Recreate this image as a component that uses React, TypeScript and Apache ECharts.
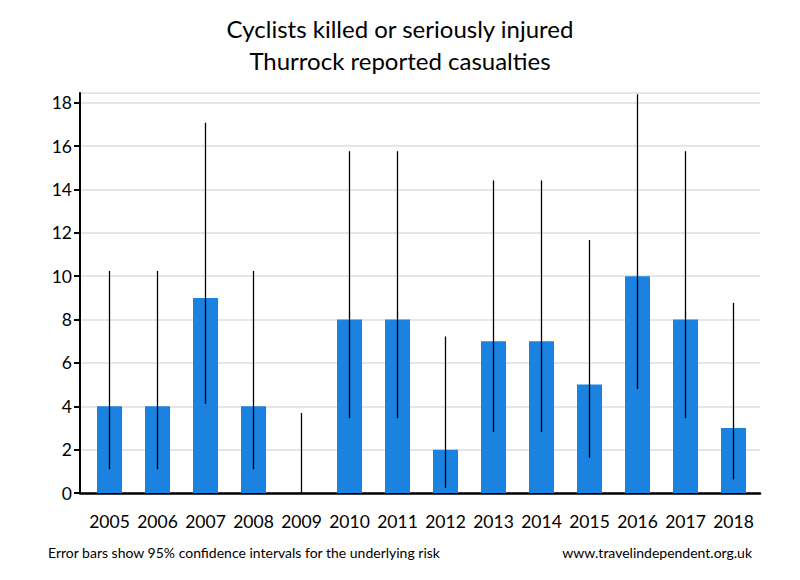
import React, { useEffect, useRef } from "react";
import * as echarts from "echarts";

const years = ["2005", "2006", "2007", "2008", "2009", "2010", "2011", "2012", "2013", "2014", "2015", "2016", "2017", "2018"];
const casualties = [4, 4, 9, 4, 0, 8, 8, 2, 7, 7, 5, 10, 8, 3];
const ciLow = [1.09, 1.09, 4.12, 1.09, 0, 3.45, 3.45, 0.24, 2.81, 2.81, 1.62, 4.8, 3.45, 0.62];
const ciHigh = [10.24, 10.24, 17.08, 10.24, 3.69, 15.76, 15.76, 7.22, 14.42, 14.42, 11.67, 18.39, 15.76, 8.77];

const titleLines = ["Cyclists killed or seriously injured", "Thurrock reported casualties"];
const footLeft = "Error bars show 95% confidence intervals for the underlying risk";
const footRight = "www.travelindependent.org.uk";

const FONT = "Lato, 'Open Sans', sans-serif";
const Y_MAX = 18.45;

export default function App() {
  const ref = useRef<HTMLDivElement>(null);
  useEffect(() => {
    if (!ref.current) return;
    const chart = echarts.init(ref.current, null, { renderer: "svg" });
    const errData = years.map((_, i) => [i, ciLow[i], ciHigh[i]]);
    chart.setOption({
      animation: false,
      backgroundColor: "#fff",
      textStyle: { fontFamily: FONT },
      title: {
        text: titleLines.join("\n"),
        left: "center",
        top: 7,
        textStyle: { fontFamily: FONT, fontSize: 24, fontWeight: "normal", color: "#000", lineHeight: 32 },
      },
      graphic: [
        { type: "text", left: 48, top: 545, style: { text: footLeft, font: `14px ${FONT}`, fill: "#000" } },
        { type: "text", right: 48, top: 545, style: { text: footRight, font: `14px ${FONT}`, fill: "#000" } },
      ],
      grid: [
        { left: 80, right: 40, top: 93, bottom: 87 },
        { left: 85.5, right: 42.5, top: 93, bottom: 87 },
      ],
      xAxis: [
        {
          gridIndex: 0,
          type: "value",
          min: 0,
          max: 1,
          axisLine: { show: true, onZero: false, lineStyle: { color: "#000", width: 2.5 } },
          axisTick: { show: false },
          axisLabel: { show: false },
          splitLine: { show: false },
        },
        {
          gridIndex: 1,
          type: "category",
          data: years,
          axisLine: { show: false },
          axisTick: { show: false },
          axisLabel: { fontFamily: FONT, fontSize: 17.5, color: "#000", margin: 19, interval: 0 },
          splitLine: { show: false },
        },
      ],
      yAxis: [
        {
          gridIndex: 0,
          type: "value",
          min: 0,
          max: Y_MAX,
          interval: 2,
          axisLine: { show: true, lineStyle: { color: "#000", width: 2 } },
          axisTick: { show: true, length: 6, lineStyle: { color: "#000", width: 2 } },
          axisLabel: { fontFamily: FONT, fontSize: 17.5, color: "#000", margin: 8, showMaxLabel: false, formatter: (v: number) => (v > 18.1 ? "" : String(v)) },
          splitLine: { show: true, lineStyle: { color: "#e6e6e6", width: 2 } },
        },
        {
          gridIndex: 1,
          type: "value",
          min: 0,
          max: Y_MAX,
          show: false,
          splitLine: { show: false },
        },
      ],
      series: [
        {
          type: "bar",
          xAxisIndex: 1,
          yAxisIndex: 1,
          data: casualties,
          barWidth: 25,
          itemStyle: { color: "#1b82e0" },
        },
        {
          type: "custom",
          xAxisIndex: 1,
          yAxisIndex: 1,
          data: errData,
          encode: { x: 0, y: [1, 2] },
          z: 5,
          renderItem: (params: any, api: any) => {
            const x = api.value(0);
            const lo = api.coord([x, api.value(1)]);
            const hi = api.coord([x, api.value(2)]);
            return {
              type: "line",
              shape: { x1: lo[0], y1: lo[1], x2: hi[0], y2: hi[1] },
              style: { stroke: "#000", lineWidth: 1.3 },
            };
          },
        },
      ],
    });
    return () => chart.dispose();
  }, []);
  return <div ref={ref} style={{ width: 800, height: 580, position: "absolute", left: 0, top: 0 }} />;
}
